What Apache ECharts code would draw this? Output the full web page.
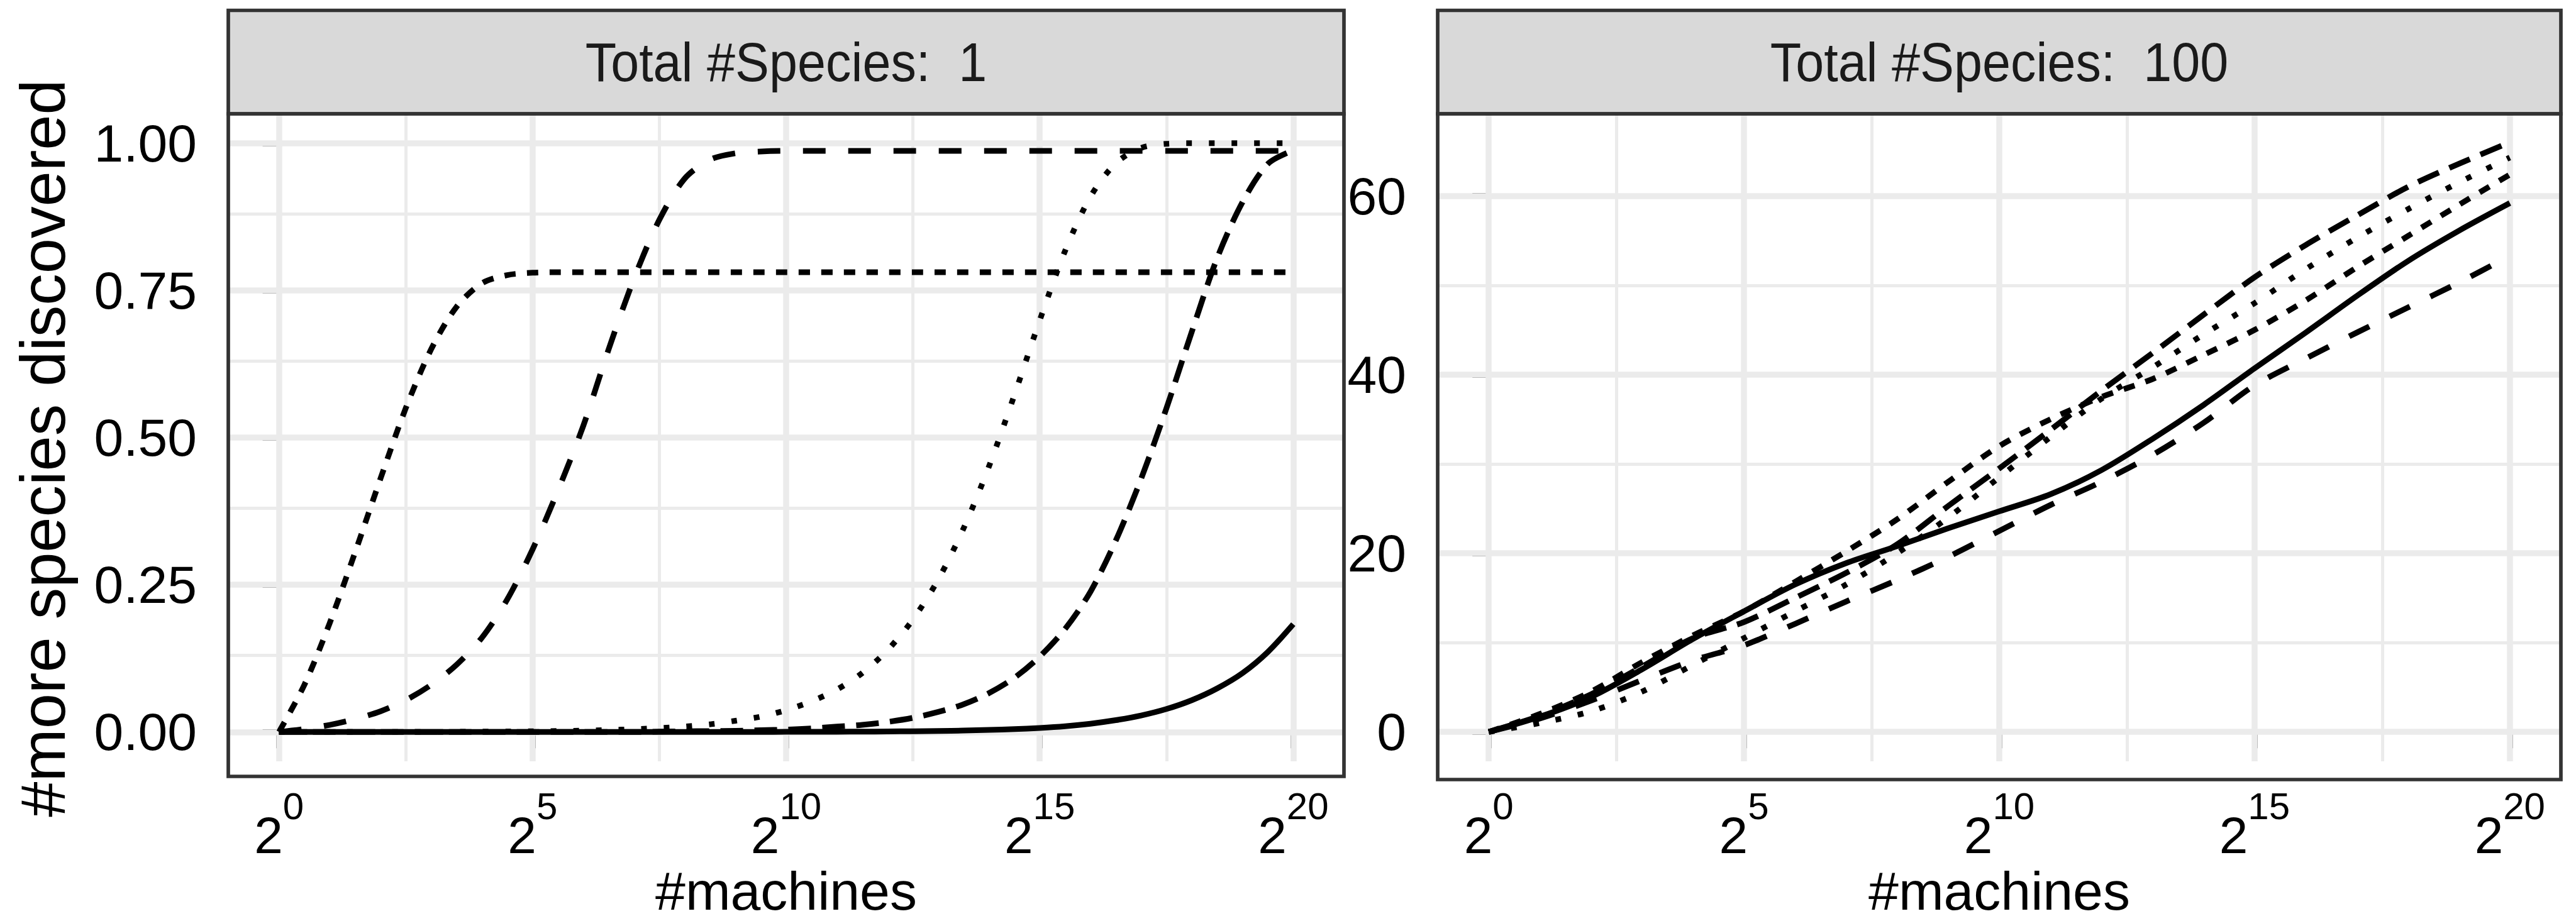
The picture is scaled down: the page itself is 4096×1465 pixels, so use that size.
<!DOCTYPE html>
<html><head><meta charset="utf-8">
<script src="https://cdn.jsdelivr.net/npm/echarts@6/dist/echarts.min.js"></script>
<style>html,body{margin:0;padding:0;background:#fff}#c{width:4096px;height:1465px}</style>
</head><body><div id="c"></div>
<script>
// ---------- data ----------
const panelTitles = ['Total #Species:  1', 'Total #Species:  100'];
const xAxisTitle = '#machines';
const yAxisTitle = '#more species discovered';
const xTicks = [0, 5, 10, 15, 20];
const xMinor = [2.5, 7.5, 12.5, 17.5];
const leftYTicks = [0, 0.25, 0.5, 0.75, 1];
const leftYMinor = [0.125, 0.375, 0.625, 0.875];
const rightYTicks = [0, 20, 40, 60];
const rightYMinor = [10, 30, 50];

// left panel (Total #Species: 1), x = log2(#machines)
const leftX = [0,0.5,1,1.5,2,2.5,3,3.5,4,4.5,5,5.5,6,6.5,7,7.5,8,8.5,9,9.5,10,10.5,11,11.5,12,12.5,13,13.5,14,14.5,15,15.5,16,16.5,17,17.5,18,18.5,19,19.5,20];
const leftSolid = [0,0,0,0,0,0,0,0,0,0,0,0,0,0,0,0,0,0,0,0.0001,0.0002,0.0003,0.0004,0.0006,0.0008,0.0012,0.0017,0.0024,0.0034,0.0048,0.0068,0.0097,0.014,0.02,0.028,0.039,0.054,0.074,0.1,0.136,0.183];
const leftD22 = [0,0.08,0.185,0.305,0.43,0.55,0.65,0.722,0.762,0.776,0.78,0.781,0.781,0.781,0.781,0.781,0.781,0.781,0.781,0.781,0.781,0.781,0.781,0.781,0.781,0.781,0.781,0.781,0.781,0.781,0.781,0.781,0.781,0.781,0.781,0.781,0.781,0.781,0.781,0.781,0.781];
const leftD44 = [0,0.005,0.012,0.022,0.035,0.054,0.08,0.114,0.16,0.225,0.31,0.41,0.52,0.65,0.77,0.87,0.94,0.972,0.983,0.986,0.987,0.987,0.987,0.987,0.987,0.987,0.987,0.987,0.987,0.987,0.987,0.987,0.987,0.987,0.987,0.987,0.987,0.987,0.987,0.987,0.987];
const leftD13 = [0,0,0,0,0,0,0,0.0003,0.0005,0.0008,0.0012,0.0016,0.0023,0.0033,0.0047,0.0066,0.0093,0.013,0.019,0.026,0.037,0.052,0.072,0.1,0.139,0.191,0.259,0.346,0.451,0.572,0.699,0.817,0.909,0.966,0.992,0.999,1,1,1,1,1];
const leftD42 = [0,0,0,0,0,0,0,0,0,0,0,0,0,0,0,0.0005,0.001,0.0015,0.002,0.003,0.004,0.006,0.009,0.012,0.017,0.024,0.034,0.047,0.066,0.092,0.128,0.175,0.238,0.325,0.43,0.55,0.68,0.805,0.9,0.965,0.988];

// right panel (Total #Species: 100)
const rightX = [0,1,2,3,4,5,6,7,8,9,10,11,12,13,14,15,16,17,18,19,20];
const rightSolid = [0,1.7,3.9,7,10.4,13.5,16.5,18.9,20.8,22.8,24.7,26.6,29.3,32.8,36.6,40.7,44.7,48.8,52.7,56.1,59.2];
const rightD44 = [0,1.5,3.5,5.8,8,9.7,12.1,14.6,17,19.6,22.5,25.4,28,31,34.6,38.8,41.8,44.7,47.5,50.3,53.3];
const rightD42 = [0,1.8,4.2,7.3,10.5,12.3,15,17.8,21,25.3,29.5,33.8,38.2,42.4,46.7,50.9,54.5,57.8,61,63.6,66];
const rightD13 = [0,1,2.3,4.5,7.5,10.5,13.5,16.5,20,24,28.5,33,37.3,40.8,44.5,48,51.8,55.3,58.5,61.5,64.3];
const rightD22 = [0,2,4.5,7.8,10.8,13.5,16.8,20.2,23.8,28,32,35,37.5,39.5,42.2,45,48.3,52,55.5,59,62.4];

// ---------- styling / layout ----------
const FONT = "'Liberation Sans', Arial, Helvetica, sans-serif";
const LW = 9;
const dashes = { solid: 'solid', d22: [18, 18], d44: [36, 36], d42: [36, 18], d13: [9, 27] };
const panels = [
  { left: 363, top: 181, width: 1774, height: 1054, yMin: -0.05, yMax: 1.05, yTicks: leftYTicks, yMinor: leftYMinor, fmt: v => v.toFixed(2), x: leftX,
    series: [['solid', leftSolid], ['d42', leftD42], ['d13', leftD13], ['d44', leftD44], ['d22', leftD22]] },
  { left: 2286, top: 181, width: 1786, height: 1059, yMin: -3.3, yMax: 69.2, yTicks: rightYTicks, yMinor: rightYMinor, fmt: v => String(v), x: rightX,
    series: [['solid', rightSolid], ['d42', rightD42], ['d13', rightD13], ['d44', rightD44], ['d22', rightD22]] }
];

const grids = [], xAxes = [], yAxes = [], series = [], graphics = [];
panels.forEach((p, i) => {
  grids.push({ left: p.left, top: p.top, width: p.width, height: p.height, show: false });
  xAxes.push({
    type: 'value', gridIndex: i, min: -1, max: 21,
    axisLine: { show: false },
    axisTick: { show: true, customValues: xTicks, length: 26, lineStyle: { color: '#333333', width: 9 } },
    axisLabel: { customValues: xTicks, margin: 41, formatter: v => '{b|2}{s|' + v + '}',
      rich: { b: { fontSize: 82, lineHeight: 117, verticalAlign: 'bottom', fontFamily: FONT, color: '#000' },
              s: { fontSize: 60, lineHeight: 60, verticalAlign: 'top', fontFamily: FONT, color: '#000' } } },
    splitLine: { show: false },
    name: xAxisTitle, nameLocation: 'middle', nameGap: 150,
    nameTextStyle: { fontSize: 86, fontFamily: FONT, color: '#000' }
  });
  yAxes.push({
    type: 'value', gridIndex: i, min: p.yMin, max: p.yMax,
    axisLine: { show: false },
    axisTick: { show: true, customValues: p.yTicks, length: 26, lineStyle: { color: '#333333', width: 9 } },
    axisLabel: { customValues: p.yTicks, margin: 50, formatter: p.fmt, fontSize: 84, fontFamily: FONT, color: '#000' },
    splitLine: { show: false }
  });
  const ml = [];
  p.yTicks.forEach(v => ml.push({ yAxis: v, lineStyle: { width: 9.5 } }));
  p.yMinor.forEach(v => ml.push({ yAxis: v, lineStyle: { width: 5 } }));
  xTicks.forEach(v => ml.push({ xAxis: v, lineStyle: { width: 9.5 } }));
  xMinor.forEach(v => ml.push({ xAxis: v, lineStyle: { width: 5 } }));
  series.push({
    type: 'line', xAxisIndex: i, yAxisIndex: i, data: [[0, 0]], showSymbol: false, symbol: 'none',
    lineStyle: { width: 0, opacity: 0 }, silent: true, z: 1,
    markLine: { z: 1, silent: true, symbol: ['none', 'none'], label: { show: false }, animation: false,
      lineStyle: { color: '#EBEBEB', type: 'solid' }, emphasis: { disabled: true }, data: ml }
  });
  p.series.forEach(([lt, ys]) => {
    series.push({
      type: 'line', xAxisIndex: i, yAxisIndex: i, z: 3,
      data: p.x.map((x, k) => [x, ys[k]]),
      showSymbol: false, symbol: 'none', smooth: 0.3,
      lineStyle: { color: '#000', width: LW, type: dashes[lt], cap: 'butt', join: 'round' },
      emphasis: { disabled: true }, silent: true
    });
  });
  // strip
  graphics.push({ type: 'rect', z: 100, shape: { x: p.left, y: 16.5, width: p.width, height: p.top - 16.5 },
    style: { fill: '#D9D9D9', stroke: '#333333', lineWidth: 5.7 } });
  graphics.push({ type: 'text', z: 101, x: p.left + p.width / 2, y: 99, scaleX: 0.93,
    style: { text: panelTitles[i], fontSize: 87, fontFamily: FONT, fill: '#1A1A1A',
      align: 'center', verticalAlign: 'middle', textAlign: 'center', textVerticalAlign: 'middle' } });
  // panel border
  graphics.push({ type: 'rect', z: 100, shape: { x: p.left, y: p.top, width: p.width, height: p.height },
    style: { fill: 'none', stroke: '#333333', lineWidth: 5.7 } });
});
graphics.push({ type: 'text', z: 101, x: 68, y: 713, rotation: Math.PI / 2,
  style: { text: yAxisTitle, fontSize: 101, fontFamily: FONT, fill: '#000',
    align: 'center', verticalAlign: 'middle', textAlign: 'center', textVerticalAlign: 'middle' } });

const chart = echarts.init(document.getElementById('c'), null, { renderer: 'svg', width: 4096, height: 1465 });
chart.setOption({
  animation: false, backgroundColor: '#fff',
  grid: grids, xAxis: xAxes, yAxis: yAxes, series: series, graphic: { elements: graphics }
});
</script></body></html>
